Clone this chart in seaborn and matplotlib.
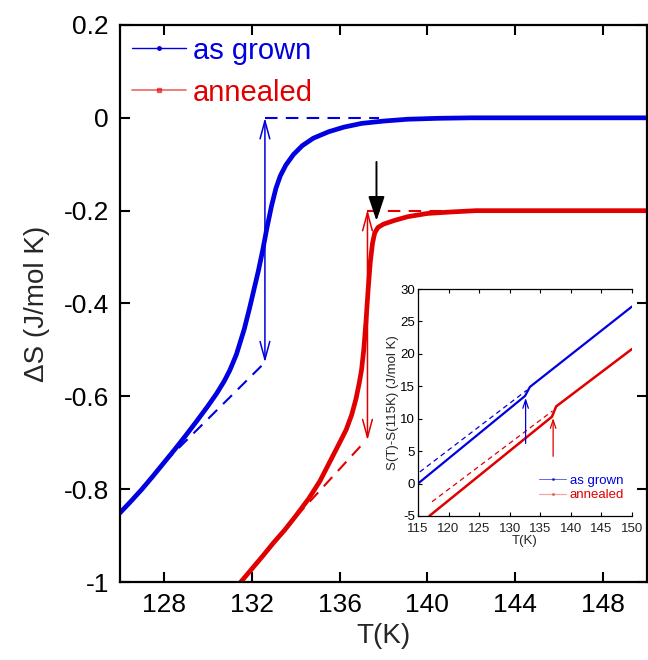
import matplotlib
matplotlib.use("Agg")
import matplotlib.pyplot as plt
import seaborn as sns
import pandas as pd

# ---- main panel: entropy change vs temperature ----
grown_T = [126.0, 126.5, 127.0, 127.5, 128.0, 128.5, 129.0, 129.5, 130.0, 130.4,
           130.75, 131.0, 131.3, 131.66, 131.9, 132.1, 132.3, 132.5, 132.7, 132.9,
           133.1, 133.3, 133.55, 133.9, 134.3, 134.8, 135.5, 136.2, 137.0, 138.0,
           139.1, 140.5, 142.0, 150.0]
grown_S = [-0.851, -0.826, -0.800, -0.772, -0.743, -0.714, -0.684, -0.653, -0.621, -0.594,
           -0.567, -0.544, -0.510, -0.455, -0.410, -0.370, -0.330, -0.285, -0.235, -0.190,
           -0.152, -0.125, -0.102, -0.079, -0.060, -0.044, -0.030, -0.020, -0.012, -0.007,
           -0.003, -0.001, 0.0, 0.0]

annealed_T = [131.5, 132.0, 132.5, 133.0, 133.5, 134.0, 134.6, 135.1, 135.6, 136.0,
              136.3, 136.55, 136.75, 136.9, 137.0, 137.1, 137.2, 137.3, 137.4, 137.5,
              137.6, 137.75, 138.0, 138.5, 139.1, 140.0, 141.0, 142.2, 150.0]
annealed_S = [-1.0, -0.972, -0.944, -0.915, -0.888, -0.858, -0.820, -0.783, -0.737, -0.700,
              -0.672, -0.640, -0.605, -0.570, -0.543, -0.500, -0.440, -0.370, -0.310, -0.270,
              -0.248, -0.236, -0.229, -0.221, -0.213, -0.206, -0.203, -0.200, -0.200]

# extrapolated baselines (dashed)
grown_base_T = [128.0, 132.6]
grown_base_S = [-0.743, -0.527]
grown_top_T = [132.6, 137.8]
grown_top_S = [0.0, 0.0]
annealed_base_T = [134.0, 137.0]
annealed_base_S = [-0.860, -0.705]
annealed_top_T = [137.27, 141.0]
annealed_top_S = [-0.2, -0.2]

# entropy jumps
grown_jump_T, grown_jump_lo, grown_jump_hi = 132.6, -0.527, 0.0
annealed_jump_T, annealed_jump_lo, annealed_jump_hi = 137.27, -0.695, -0.198
kink_T, kink_from, kink_to = 137.68, -0.095, -0.222

x_ticks = [128, 132, 136, 140, 144, 148]
y_ticks = [-1.0, -0.8, -0.6, -0.4, -0.2, 0.0, 0.2]
y_tick_labels = ["-1", "-0.8", "-0.6", "-0.4", "-0.2", "0", "0.2"]

# ---- inset: S(T) - S(115 K) ----
in_grown_T = [115.0, 132.5, 133.3, 150.0]
in_grown_S = [0.0, 13.5, 14.9, 27.3]
in_grown_base_T = [115.3, 132.8]
in_grown_base_S = [1.8, 14.4]
in_annealed_T = [116.85, 136.9, 137.6, 150.0]
in_annealed_S = [-5.0, 10.3, 11.9, 20.75]
in_annealed_base_T = [117.3, 137.0]
in_annealed_base_S = [-2.8, 11.2]
in_grown_arrow = (132.6, 6.2, 13.2)
in_annealed_arrow = (137.1, 4.2, 10.1)
in_x_ticks = [115, 120, 125, 130, 135, 140, 145, 150]
in_y_ticks = [-5, 0, 5, 10, 15, 20, 25, 30]

BLUE = "#0000e0"
RED = "#e00000"

sns.set_style("ticks")
plt.rcParams["font.family"] = ["Liberation Sans", "DejaVu Sans"]
plt.rcParams["axes.unicode_minus"] = False

fig = plt.figure(figsize=(6.48, 6.60), dpi=100)
ax = fig.add_axes([120 / 648, 78 / 660, 527 / 648, 557 / 660])

main = pd.DataFrame({"T": grown_T, "S": grown_S})
ann = pd.DataFrame({"T": annealed_T, "S": annealed_S})
sns.lineplot(data=main, x="T", y="S", ax=ax, color=BLUE, lw=3.4, sort=False)
sns.lineplot(data=ann, x="T", y="S", ax=ax, color=RED, lw=3.4, sort=False)

dash = dict(lw=1.5, dashes=(6, 4))
ax.plot(grown_base_T, grown_base_S, color=BLUE, **dash)
ax.plot(grown_top_T, grown_top_S, color=BLUE, **dash)
ax.plot(annealed_base_T, annealed_base_S, color=RED, **dash)
ax.plot(annealed_top_T, annealed_top_S, color=RED, **dash)

ax.annotate("", xy=(grown_jump_T, grown_jump_hi), xytext=(grown_jump_T, grown_jump_lo),
            arrowprops=dict(arrowstyle="<->,head_length=1.3,head_width=0.35",
                            color=BLUE, lw=1.1, shrinkA=0, shrinkB=0))
ax.annotate("", xy=(annealed_jump_T, annealed_jump_hi), xytext=(annealed_jump_T, annealed_jump_lo),
            arrowprops=dict(arrowstyle="<->,head_length=1.3,head_width=0.35",
                            color=RED, lw=1.1, shrinkA=0, shrinkB=0))
ax.annotate("", xy=(kink_T, kink_to), xytext=(kink_T, kink_from),
            arrowprops=dict(arrowstyle="-|>,head_length=1.5,head_width=0.5",
                            color="black", lw=1.4, shrinkA=0, shrinkB=0))

# legend handles
h1, = ax.plot([], [], color=BLUE, lw=1.0, marker="o", ms=2.5)
h2, = ax.plot([], [], color=RED, lw=1.3, marker="s", ms=2.5, alpha=0.55)
leg = ax.legend([h1, h2], ["as grown", "annealed"], loc="upper left", frameon=False,
                fontsize=21, handlelength=1.85, handletextpad=0.25, labelspacing=0.48,
                borderpad=0.15, borderaxespad=0.25, bbox_to_anchor=(0.0, 1.0))
for t, c in zip(leg.get_texts(), [BLUE, RED]):
    t.set_color(c)

ax.set_xlim(126, 150)
ax.set_ylim(-1.0, 0.2)
ax.set_xticks(x_ticks)
ax.set_yticks(y_ticks)
ax.set_yticklabels(y_tick_labels)
ax.tick_params(direction="in", top=True, right=True, length=7, width=1.5,
               labelsize=19, pad=8, colors="black")
for s in ax.spines.values():
    s.set_linewidth(1.6)
    s.set_color("black")
ax.set_xlabel("T(K)", fontsize=20, labelpad=4)
ax.set_ylabel("ΔS (J/mol K)", fontsize=20, labelpad=10)

# ---- inset ----
ins = fig.add_axes([418 / 648, 144 / 660, 214 / 648, 227 / 660])
ins.set_facecolor("white")
sns.lineplot(x=in_grown_T, y=in_grown_S, ax=ins, color=BLUE, lw=1.6, sort=False)
sns.lineplot(x=in_annealed_T, y=in_annealed_S, ax=ins, color=RED, lw=1.8, sort=False)
ins.plot(in_grown_base_T, in_grown_base_S, color=BLUE, lw=0.9, dashes=(4, 3))
ins.plot(in_annealed_base_T, in_annealed_base_S, color=RED, lw=0.9, dashes=(4, 3))
for (xa, lo, hi), c in [(in_grown_arrow, BLUE), (in_annealed_arrow, RED)]:
    ins.annotate("", xy=(xa, hi), xytext=(xa, lo),
                 arrowprops=dict(arrowstyle="->,head_length=0.6,head_width=0.2",
                                 color=c, lw=0.9, shrinkA=0, shrinkB=0))

g1, = ins.plot([], [], color=BLUE, lw=0.7, marker="o", ms=1.2, alpha=0.6)
g2, = ins.plot([], [], color=RED, lw=0.9, marker="s", ms=1.2, alpha=0.35)
ileg = ins.legend([g1, g2], ["as grown", "annealed"], loc="lower right", frameon=False,
                  fontsize=9.5, handlelength=2.0, handletextpad=0.3, labelspacing=0.15,
                  borderaxespad=0.2, bbox_to_anchor=(1.0, 0.03))
for t, c in zip(ileg.get_texts(), [BLUE, RED]):
    t.set_color(c)

ins.set_xlim(115, 150)
ins.set_ylim(-5, 30)
ins.set_xticks(in_x_ticks)
ins.set_yticks(in_y_ticks)
ins.tick_params(direction="in", top=True, right=False, length=3, width=0.8,
                labelsize=9.5, pad=2, colors="black")
ins.tick_params(axis="x", pad=5, labelcolor="#222222")
ins.spines["right"].set_visible(False)
for k in ["left", "top", "bottom"]:
    ins.spines[k].set_linewidth(0.9)
    ins.spines[k].set_color("black")
ins.set_xlabel("T(K)", fontsize=9.5, labelpad=0)
ins.set_ylabel("S(T)-S(115K) (J/mol K)", fontsize=9.5, labelpad=1)

fig.savefig("out.png", dpi=100)
